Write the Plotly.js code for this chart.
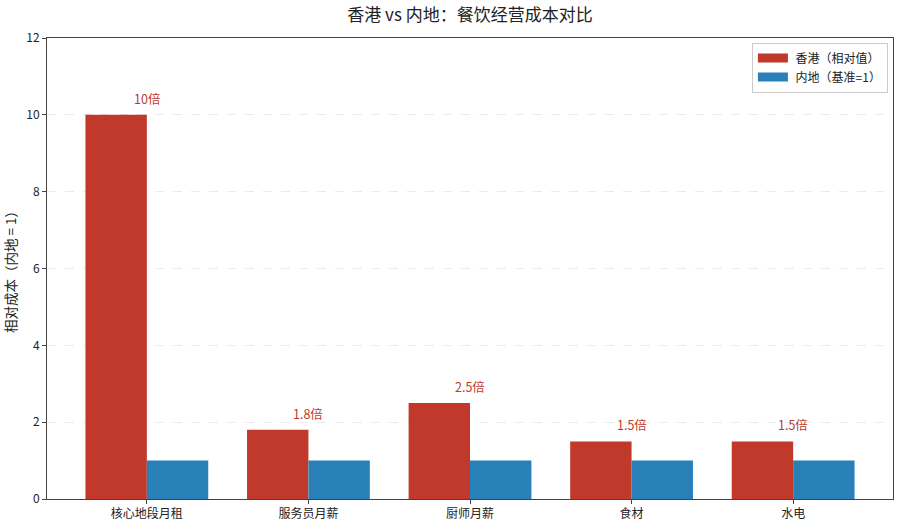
<!DOCTYPE html>
<html><head><meta charset="utf-8">
<script src="https://cdn.plot.ly/plotly-3.0.1.min.js"></script>
<style>html,body{margin:0;padding:0;background:#fff}#chart{width:900px;height:529px}</style>
</head><body><div id="chart"></div>
<script>
const categories = ['核心地段月租','服务员月薪','厨师月薪','食材','水电'];
const hkValues = [10, 1.8, 2.5, 1.5, 1.5];
const mainlandValues = [1, 1, 1, 1, 1];
const ratioLabels = ['10倍','1.8倍','2.5倍','1.5倍','1.5倍'];
const yTicks = [0, 2, 4, 6, 8, 10, 12];
const seriesNames = ['香港（相对值）', '内地（基准=1）'];
const seriesColors = ['#c0392b', '#2980b9'];

const FONT = '"Noto Sans CJK SC", "Noto Sans", sans-serif';
const idx = categories.map((c, i) => i);

const traces = [
  {type:'bar', name:seriesNames[0], x: idx, y: hkValues, offset: -0.38, width: 0.38,
   marker:{color:seriesColors[0]}, hoverinfo:'none', showlegend:false},
  {type:'bar', name:seriesNames[1], x: idx, y: mainlandValues, offset: 0, width: 0.38,
   marker:{color:seriesColors[1]}, hoverinfo:'none', showlegend:false},
  {type:'scatter', mode:'lines', name:' ' + seriesNames[0], x:[null], y:[null],
   line:{color:seriesColors[0], width:9}, hoverinfo:'none'},
  {type:'scatter', mode:'lines', name:' ' + seriesNames[1], x:[null], y:[null],
   line:{color:seriesColors[1], width:9}, hoverinfo:'none'}
];

const annotations = hkValues.map((v, i) => ({
  x: i, y: v, xref:'x', yref:'y', text: ratioLabels[i], showarrow:false,
  yanchor:'bottom', yshift: 5, font:{family:FONT, size:12.5, color:'#c0392b'}
}));

const layout = {
  width:900, height:529,
  margin:{l:47, r:7, t:38, b:30},
  paper_bgcolor:'#fff', plot_bgcolor:'#fff',
  font:{family:FONT, size:12, color:'#222'},
  title:{text:'香港 vs 内地：餐饮经营成本对比', font:{family:FONT, size:17, color:'#222'},
    xref:'paper', x:0.5, xanchor:'center', y:0.972, yanchor:'middle'},
  showlegend:true,
  legend:{x:0.994, xanchor:'right', y:0.99, yanchor:'top', bgcolor:'rgba(255,255,255,0.8)',
    bordercolor:'#ccc', borderwidth:1, font:{family:FONT, size:12}, itemwidth:30, tracegroupgap:2},
  xaxis:{range:[-0.618, 4.618], tickmode:'array', tickvals: idx, ticktext: categories,
    showline:true, mirror:true, linecolor:'#444', linewidth:1, ticks:'outside', ticklen:4, tickcolor:'#444',
    showgrid:false, zeroline:false, tickfont:{family:FONT, size:12, color:'#222'}},
  yaxis:{range:[0, 12], tickmode:'array', tickvals: yTicks,
    showline:true, mirror:true, linecolor:'#444', linewidth:1, ticks:'outside', ticklen:4, tickcolor:'#444',
    showgrid:true, gridcolor:'rgba(0,0,0,0.08)', griddash:'dash', gridwidth:1, zeroline:false,
    tickfont:{family:FONT, size:12, color:'#222'},
    title:{text:'相对成本（内地 = 1）', font:{family:FONT, size:13.5, color:'#222'}, standoff:8}},
  annotations: annotations
};
Plotly.newPlot('chart', traces, layout, {displayModeBar:false, staticPlot:true});
</script></body></html>
